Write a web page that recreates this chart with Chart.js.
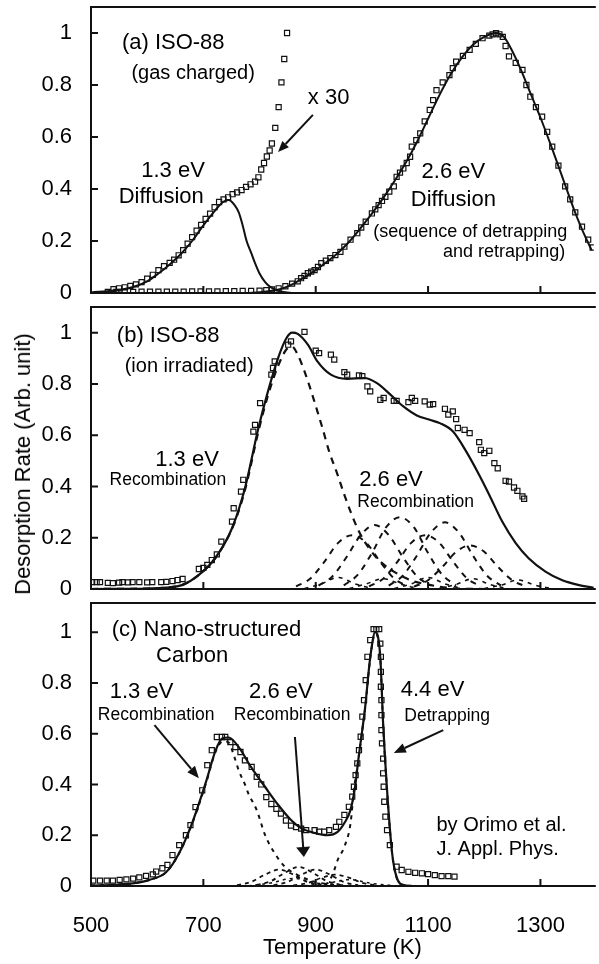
<!DOCTYPE html>
<html>
<head>
<meta charset="utf-8">
<script src="https://cdn.jsdelivr.net/npm/chart.js@4.4.0/dist/chart.umd.min.js"></script>
<style>
  body { margin: 0; background: #fff; width: 599px; height: 964px; position: relative; overflow: hidden; }
  canvas { position: absolute; left: 0; }
  #ytitle { position: absolute; left: 23px; top: 464px; transform: translate(-50%, -50%) rotate(-90deg);
            font: 22px "Liberation Sans", Arial, sans-serif; white-space: nowrap; color: #000; }
</style>
</head>
<body>
<canvas id="pa" width="599" height="310" style="top:0px"></canvas>
<canvas id="pb" width="599" height="310" style="top:296px"></canvas>
<canvas id="pc" width="599" height="372" style="top:592px"></canvas>
<div id="ytitle">Desorption Rate (Arb. unit)</div>
<script>
var FONT = '"Liberation Sans", Arial, Helvetica, sans-serif';

// axes
var xTicks = [500, 700, 900, 1100, 1300];
var xTickLabels = ['500', '700', '900', '1100', '1300'];
var yTicks = [0, 0.2, 0.4, 0.6, 0.8, 1];
var yTickLabels = ['0', '0.2', '0.4', '0.6', '0.8', '1'];

// ---- (a) gas charged ----
var aMainT = [530,545,560,575,590,605,620,635,650,665,680,695,710,725,740,755,770,785,800,812,822,834,846,858,868,874,880,886,892,898,904,910,918,926,935,944,951,962,974,981,989,1000,1006,1012,1018,1024,1031,1039,1044,1050,1056,1062,1068,1071,1079,1086,1094,1103,1109,1115,1126,1138,1144,1150,1162,1174,1185,1197,1209,1215,1221,1227,1233,1238,1244,1256,1268,1275,1282,1292,1303,1312,1321,1332,1344,1353,1362,1374,1385,1393];
var aMainY = [.004,.004,.004,.004,.005,.005,.005,.005,.005,.005,.006,.006,.006,.006,.007,.007,.008,.008,.009,.011,.014,.018,.026,.036,.045,.057,.066,.076,.082,.088,.1,.115,.124,.134,.146,.158,.178,.205,.23,.252,.274,.306,.322,.338,.354,.37,.39,.41,.447,.463,.479,.5,.524,.563,.588,.614,.66,.704,.742,.78,.81,.838,.865,.89,.912,.935,.958,.98,.99,.995,.999,.995,.985,.95,.91,.885,.858,.8,.755,.715,.678,.62,.563,.49,.41,.36,.31,.255,.205,.175];
var aX30T = [540,550,560,570,580,590,600,610,620,630,640,648,656,664,672,680,688,696,704,712,720,728,736,744,752,760,768,776,784,792,798,803,808,813,818,822,828,834,839,844,849];
var aX30Y = [.015,.018,.022,.027,.033,.042,.055,.07,.088,.103,.116,.128,.145,.165,.19,.215,.24,.262,.285,.305,.33,.35,.36,.368,.38,.387,.396,.408,.418,.428,.445,.475,.5,.525,.548,.575,.635,.715,.81,.9,1.0];
var aFit13T = [500,540,570,600,620,640,660,680,700,720,735,745,755,763,770,777,785,792,800,810,820,828,840,860];
var aFit13Y = [.002,.01,.02,.045,.075,.11,.15,.2,.26,.315,.35,.358,.34,.31,.26,.2,.155,.115,.075,.042,.022,.013,.005,0];
var aFit26T = [780,800,820,840,860,880,900,920,940,960,980,1000,1020,1040,1060,1080,1100,1120,1140,1160,1180,1200,1220,1235,1250,1265,1280,1300,1320,1340,1360,1374,1391];
var aFit26Y = [0,.003,.008,.017,.035,.06,.088,.12,.155,.198,.25,.305,.365,.43,.5,.58,.67,.76,.84,.905,.955,.985,1.0,.985,.93,.86,.78,.675,.56,.44,.32,.245,.165];

// ---- (b) ion irradiated ----
var bDataT = [502,510,516,530,539,550,556,566,574,586,600,609,625,634,645,654,663,692,700,707,715,724,732,751,754,767,771,789,792,801,821,824,827,851,856,880,900,906,927,933,951,956,977,983,992,997,1015,1021,1039,1044,1065,1071,1077,1094,1103,1109,1130,1136,1144,1150,1153,1165,1174,1191,1194,1200,1209,1218,1224,1238,1244,1253,1259,1268,1271];
var bDataY = [.027,.027,.027,.024,.023,.025,.027,.026,.027,.027,.026,.027,.027,.028,.031,.035,.039,.078,.082,.094,.113,.135,.185,.263,.315,.38,.426,.614,.64,.725,.836,.862,.888,.953,.966,1.003,.93,.92,.914,.895,.846,.836,.833,.83,.79,.771,.738,.745,.734,.734,.729,.745,.734,.732,.719,.721,.703,.68,.693,.663,.628,.621,.608,.573,.543,.53,.539,.491,.471,.422,.419,.396,.383,.361,.352];
var bFitT = [500,600,633,663,692,721,751,774,798,815,833,848,858,868,886,903,927,956,986,1009,1033,1056,1080,1103,1121,1144,1168,1191,1209,1232,1256,1279,1309,1338,1367,1395];
var bFitY = [0,.002,.005,.016,.055,.12,.237,.393,.628,.771,.901,.979,1.0,.995,.953,.888,.836,.82,.823,.803,.758,.712,.677,.66,.647,.615,.536,.445,.367,.263,.179,.12,.068,.035,.016,.005];
var b13T = [500,600,633,663,692,721,751,774,798,815,833,848,858,868,880,892,903,912,924,939,951,962,977,995,1015,1039,1068,1103,1144,1200];
var b13Y = [0,.002,.005,.016,.055,.12,.235,.385,.615,.755,.87,.935,.945,.914,.849,.771,.693,.628,.536,.445,.367,.302,.224,.159,.107,.068,.035,.016,.003,0];
var bBell1 = [[865,.01],[890,.04],[915,.105],[940,.18],[965,.21],[990,.18],[1015,.105],[1040,.04],[1065,.01]];
var bBell2 = [[905,.013],[930,.05],[955,.125],[980,.21],[1005,.25],[1030,.21],[1055,.125],[1080,.05],[1105,.013]];
var bBell3 = [[950,.014],[975,.056],[1000,.14],[1025,.24],[1050,.28],[1075,.24],[1100,.14],[1125,.056],[1150,.014]];
var bBell4 = [[995,.01],[1020,.04],[1045,.105],[1070,.18],[1095,.21],[1120,.18],[1145,.105],[1170,.04],[1195,.01]];
var bBell5 = [[1030,.013],[1055,.052],[1080,.13],[1105,.22],[1130,.26],[1155,.22],[1180,.13],[1205,.052],[1230,.013]];
var bBell6 = [[1075,.009],[1100,.034],[1125,.085],[1150,.145],[1175,.17],[1200,.145],[1225,.085],[1250,.034],[1275,.009]];
var bLow1 = [[880,.002],[910,.02],[940,.045],[970,.02],[1000,.002]];
var bLow2 = [[960,.002],[990,.02],[1020,.04],[1050,.02],[1080,.002]];
var bLow3 = [[1040,.002],[1070,.02],[1100,.045],[1130,.02],[1160,.002]];
var bLow4 = [[1120,.002],[1150,.018],[1180,.04],[1210,.018],[1240,.002]];
var bLow5 = [[1200,.002],[1230,.015],[1260,.035],[1290,.015],[1320,.002]];

// ---- (c) nano-structured carbon ----
var cDataT = [504,516,528,539,551,563,575,586,598,610,616,627,636,645,657,669,677,686,698,707,715,724,733,739,748,757,766,774,786,795,803,812,821,830,838,847,856,865,874,883,898,906,915,924,936,942,951,959,965,968,971,974,977,980,983,986,989,992,997,1003,1008,1013,1015,1016,1016,1016,1017,1017,1017,1018,1020,1020,1021,1022,1024,1027,1032,1044,1053,1065,1077,1089,1100,1112,1124,1136,1147];
var cDataY = [.021,.021,.021,.021,.024,.026,.029,.034,.04,.046,.057,.07,.083,.122,.161,.2,.24,.311,.377,.476,.535,.587,.587,.587,.567,.547,.528,.495,.469,.43,.40,.35,.323,.304,.285,.258,.238,.232,.226,.22,.22,.214,.214,.22,.233,.253,.28,.312,.352,.391,.437,.483,.535,.588,.667,.732,.811,.903,.969,1.012,1.012,1.012,.955,.903,.844,.785,.732,.673,.614,.562,.502,.444,.391,.332,.273,.22,.161,.076,.063,.056,.052,.05,.047,.043,.039,.039,.037];
var cFitT = [500,540,574,604,634,657,680,704,722,733,745,763,785,810,833,856,874,898,921,939,951,962,970,976,982,988,997,1006,1015,1020,1027,1036,1044,1057,1080,1395];
var cFitY = [.002,.005,.01,.024,.055,.13,.248,.405,.535,.58,.585,.547,.468,.39,.32,.26,.228,.209,.2,.213,.248,.3,.39,.5,.6,.705,.9,1.0,.9,.64,.378,.13,.035,.004,0,0];
var c13T = [500,540,574,604,634,657,680,704,722,735,745,755,763,774,780,795,810,827,845,868,898,940,980];
var c13Y = [.002,.005,.01,.024,.055,.13,.245,.4,.53,.57,.565,.51,.455,.4,.365,.299,.2,.129,.076,.043,.017,.004,0];
var c44T = [900,921,933,939,951,962,968,976,982,988,997,1006,1015,1020,1027,1036,1044,1057,1080];
var c44Y = [.002,.011,.063,.102,.155,.247,.378,.5,.6,.7,.895,.995,.895,.635,.375,.128,.033,.003,0];
var cBell1 = [[760,.003],[785,.016],[810,.045],[835,.065],[860,.045],[885,.016],[910,.003]];
var cBell2 = [[795,.004],[820,.019],[845,.052],[870,.075],[895,.052],[920,.019],[945,.004]];
var cBell3 = [[825,.003],[850,.016],[875,.045],[900,.065],[925,.045],[950,.016],[975,.003]];
var cBell4 = [[860,.002],[885,.011],[910,.032],[935,.045],[960,.032],[985,.011],[1010,.002]];
var cLow1 = [[780,.001],[820,.012],[860,.03],[900,.012],[940,.001]];
var cLow2 = [[880,.001],[920,.01],[960,.025],[1000,.01],[1040,.001]];

// text + arrows, placed in data units of each panel
var panelNotes = {
  pa: {
    notes: [
      {t: '(a) ISO-88', x: 555, y: 0.962, size: 22, align: 'left'},
      {t: '(gas charged)', x: 572, y: 0.846, size: 20, align: 'left'},
      {t: '1.3 eV', x: 646, y: 0.469, size: 22, align: 'center'},
      {t: 'Diffusion', x: 625, y: 0.369, size: 22, align: 'center'},
      {t: 'x 30', x: 886, y: 0.75, size: 22, align: 'left'},
      {t: '2.6 eV', x: 1145, y: 0.465, size: 22, align: 'center'},
      {t: 'Diffusion', x: 1145, y: 0.358, size: 22, align: 'center'},
      {t: '(sequence of detrapping', x: 1175, y: 0.235, size: 18, align: 'center'},
      {t: 'and retrapping)', x: 1344, y: 0.158, size: 18, align: 'right'}
    ],
    arrows: [{x1: 895, y1: 0.685, x2: 833, y2: 0.542, len: 11, w: 9}]
  },
  pb: {
    notes: [
      {t: '(b) ISO-88', x: 546, y: 0.988, size: 22, align: 'left'},
      {t: '(ion irradiated)', x: 560, y: 0.867, size: 20, align: 'left'},
      {t: '1.3 eV', x: 671, y: 0.504, size: 22, align: 'center'},
      {t: 'Recombination', x: 637, y: 0.426, size: 17.5, align: 'center'},
      {t: '2.6 eV', x: 1034, y: 0.426, size: 22, align: 'center'},
      {t: 'Recombination', x: 1078, y: 0.34, size: 17.5, align: 'center'}
    ],
    arrows: []
  },
  pc: {
    notes: [
      {t: '(c) Nano-structured', x: 537, y: 1.008, size: 22, align: 'left'},
      {t: 'Carbon', x: 680, y: 0.906, size: 22, align: 'center'},
      {t: '1.3 eV', x: 590, y: 0.764, size: 22, align: 'center'},
      {t: 'Recombination', x: 616, y: 0.673, size: 17.5, align: 'center'},
      {t: '2.6 eV', x: 838, y: 0.764, size: 22, align: 'center'},
      {t: 'Recombination', x: 858, y: 0.673, size: 17.5, align: 'center'},
      {t: '4.4 eV', x: 1108, y: 0.772, size: 22, align: 'center'},
      {t: 'Detrapping', x: 1134, y: 0.669, size: 17.5, align: 'center'},
      {t: 'by Orimo et al.', x: 1115, y: 0.24, size: 20, align: 'left'},
      {t: 'J. Appl. Phys.', x: 1115, y: 0.142, size: 20, align: 'left'}
    ],
    arrows: [
      {x1: 613, y1: 0.634, x2: 692, y2: 0.425, len: 12, w: 10},
      {x1: 863, y1: 0.587, x2: 879, y2: 0.114, len: 10, w: 14},
      {x1: 1127, y1: 0.614, x2: 1039, y2: 0.524, len: 12, w: 10}
    ]
  }
};

function drawArrow(ctx, x1, y1, x2, y2, len, w) {
  var a = Math.atan2(y2 - y1, x2 - x1);
  var bx = x2 - len * Math.cos(a), by = y2 - len * Math.sin(a);
  ctx.beginPath();
  ctx.moveTo(x1, y1);
  ctx.lineTo(bx, by);
  ctx.stroke();
  ctx.beginPath();
  ctx.moveTo(x2, y2);
  ctx.lineTo(bx + w / 2 * Math.sin(a), by - w / 2 * Math.cos(a));
  ctx.lineTo(bx - w / 2 * Math.sin(a), by + w / 2 * Math.cos(a));
  ctx.closePath();
  ctx.fill();
}

// frame, inward ticks, labels and arrows
var framePlugin = {
  id: 'frame',
  afterDatasetsDraw: function(chart) {
    var ctx = chart.ctx, a = chart.chartArea, x = chart.scales.x, y = chart.scales.y;
    ctx.save();
    ctx.strokeStyle = '#111';
    ctx.fillStyle = '#111';
    ctx.lineWidth = 2;
    ctx.beginPath();
    ctx.moveTo(a.right + 2, a.top);
    ctx.lineTo(a.left, a.top);
    ctx.lineTo(a.left, a.bottom);
    ctx.lineTo(a.right + 2, a.bottom);
    ctx.stroke();
    ctx.beginPath();
    yTicks.forEach(function(v) {
      var py = y.getPixelForValue(v);
      ctx.moveTo(a.left, py); ctx.lineTo(a.left + 7, py);
    });
    xTicks.forEach(function(v) {
      var px = x.getPixelForValue(v);
      ctx.moveTo(px, a.bottom); ctx.lineTo(px, a.bottom - 7);
    });
    ctx.stroke();

    var p = panelNotes[chart.canvas.id];
    ctx.fillStyle = '#000';
    ctx.textBaseline = 'middle';
    p.notes.forEach(function(n) {
      ctx.font = n.size + 'px ' + FONT;
      ctx.textAlign = n.align;
      ctx.fillText(n.t, x.getPixelForValue(n.x), y.getPixelForValue(n.y));
    });
    ctx.fillStyle = '#111';
    p.arrows.forEach(function(r) {
      drawArrow(ctx, x.getPixelForValue(r.x1), y.getPixelForValue(r.y1),
                x.getPixelForValue(r.x2), y.getPixelForValue(r.y2), r.len, r.w);
    });
    ctx.restore();
  }
};

function pts(ts, vs) { return ts.map(function(t, i) { return {x: t, y: vs[i]}; }); }
function pairs(p) { return p.map(function(q) { return {x: q[0], y: q[1]}; }); }

function squares(data) {
  return {data: data, showLine: false, pointStyle: 'rect', pointRadius: 3.6,
          pointBorderWidth: 1.2, pointBorderColor: '#111', pointBackgroundColor: 'rgba(0,0,0,0)'};
}
function curve(data, dash, w) {
  return {data: data, showLine: true, borderColor: '#111', borderWidth: w || 2, borderDash: dash || [],
          pointRadius: 0, fill: false, cubicInterpolationMode: 'monotone'};
}

function makePanel(id, datasets, yMax, showX, pad) {
  return new Chart(document.getElementById(id), {
    type: 'scatter',
    data: {datasets: datasets},
    options: {
      responsive: false,
      animation: false,
      layout: {padding: pad},
      plugins: {legend: {display: false}, tooltip: {enabled: false}},
      scales: {
        x: {
          type: 'linear', min: 500, max: 1395, display: showX, position: 'bottom',
          grid: {display: false, drawTicks: false}, border: {display: false},
          afterBuildTicks: function(s) { s.ticks = xTicks.map(function(v) { return {value: v}; }); },
          afterFit: function(s) {
            if (showX) s.height = 78;
            s.paddingLeft = 0; s.paddingRight = 0;
          },
          ticks: {padding: 27, color: '#000', font: {family: FONT, size: 22}, maxRotation: 0, autoSkip: false,
                  callback: function(v, i) { return xTickLabels[i]; }},
          title: {display: showX, text: 'Temperature (K)', color: '#000', font: {family: FONT, size: 22},
                  padding: {top: 0, bottom: 3}}
        },
        y: {
          type: 'linear', min: 0, max: yMax,
          grid: {display: false, drawTicks: false}, border: {display: false},
          afterBuildTicks: function(s) { s.ticks = yTicks.map(function(v) { return {value: v}; }); },
          afterFit: function(s) {
            s.width = 91;
            s.paddingTop = 0; s.paddingBottom = 0;
          },
          ticks: {padding: 19, color: '#000', font: {family: FONT, size: 22},
                  callback: function(v, i) { return yTickLabels[i]; }}
        }
      }
    },
    plugins: [framePlugin]
  });
}

makePanel('pa', [
  curve(pts(aFit13T, aFit13Y)),
  curve(pts(aFit26T, aFit26Y)),
  squares(pts(aMainT, aMainY)),
  squares(pts(aX30T, aX30Y))
], 1.1, false, {top: 7, bottom: 17, left: 0, right: 0});

makePanel('pb', [
  curve(pts(bFitT, bFitY), [], 2.2),
  squares(pts(bDataT, bDataY)),
  curve(pts(b13T, b13Y), [7, 6], 2.2),
  curve(pairs(bBell1), [6, 6], 2), curve(pairs(bBell2), [6, 6], 2), curve(pairs(bBell3), [6, 6], 2),
  curve(pairs(bBell4), [6, 6], 2), curve(pairs(bBell5), [6, 6], 2), curve(pairs(bBell6), [6, 6], 2),
  curve(pairs(bLow1), [4, 5], 1.6), curve(pairs(bLow2), [4, 5], 1.6), curve(pairs(bLow3), [4, 5], 1.6),
  curve(pairs(bLow4), [4, 5], 1.6), curve(pairs(bLow5), [4, 5], 1.6)
], 1.1, false, {top: 11, bottom: 17, left: 0, right: 0});

makePanel('pc', [
  curve(pts(cFitT, cFitY), [], 2.2),
  squares(pts(cDataT, cDataY)),
  curve(pts(c13T, c13Y), [4, 5], 2),
  curve(pts(c44T, c44Y), [4, 5], 2),
  curve(pairs(cBell1), [4, 4], 1.8), curve(pairs(cBell2), [4, 4], 1.8), curve(pairs(cBell3), [4, 4], 1.8),
  curve(pairs(cBell4), [4, 4], 1.8), curve(pairs(cLow1), [3, 4], 1.5), curve(pairs(cLow2), [3, 4], 1.5)
], 1.115, true, {top: 11, bottom: 0, left: 0, right: 0});
</script>
</body>
</html>
